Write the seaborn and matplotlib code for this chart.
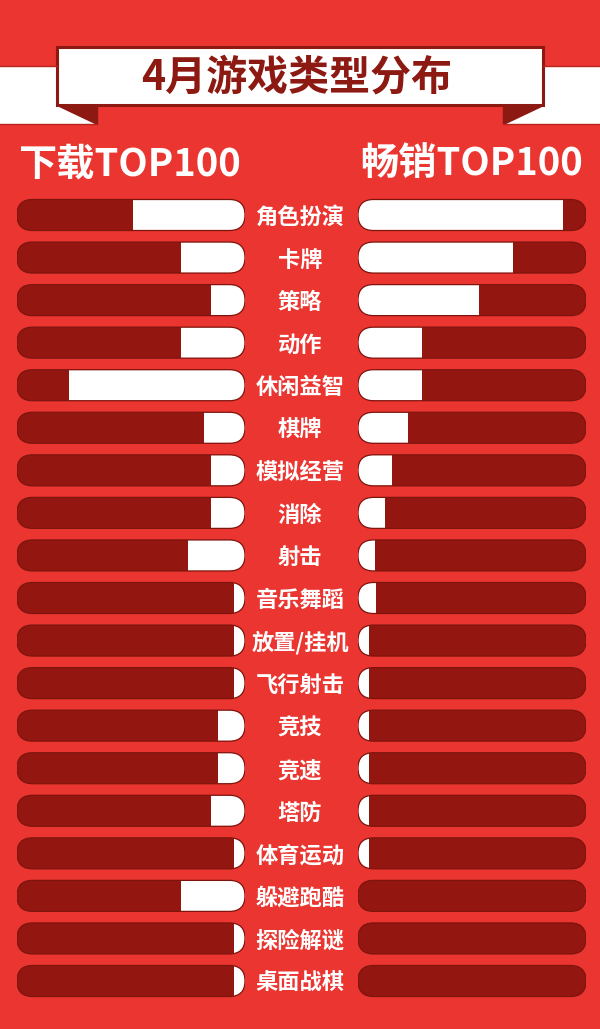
import matplotlib
matplotlib.use("Agg")
from matplotlib import pyplot as plt
from matplotlib.patches import FancyBboxPatch, Rectangle, Polygon
import seaborn as sns
import pandas as pd

genres = [
    "角色扮演", "卡牌", "策略", "动作", "休闲益智", "棋牌", "模拟经营", "消除",
    "射击", "音乐舞蹈", "放置/挂机", "飞行射击", "竞技", "竞速", "塔防",
    "体育运动", "躲避跑酷", "探险解谜", "桌面战棋",
]
# share of the bar that is white, in % of the full track
download_top100 = [49, 28, 15, 28, 77, 18, 15, 15, 25, 5, 5, 5, 12, 12, 15, 5, 28, 5, 5]
grossing_top100 = [90, 68, 53, 28, 28, 22, 15, 12, 7.5, 8, 5, 5, 5, 5, 5, 5, 0, 0, 0]
full_scale = 100

title = "4月游戏类型分布"
left_header = "下载TOP100"
right_header = "畅销TOP100"

BG = "#EA3530"
DARK = "#931710"
EDGE = "#7E140E"
TITLE_RED = "#8C1912"

df = pd.DataFrame({
    "genre": genres,
    "download": download_top100,
    "grossing": grossing_top100,
    "track": [full_scale] * len(genres),
})

sns.set_theme(style="white")
plt.rcParams["font.family"] = ["Noto Sans CJK SC", "DejaVu Sans"]

W, H = 600, 1029
fig = plt.figure(figsize=(W / 100, H / 100), dpi=100)
fig.patch.set_facecolor(BG)

# background / banner axes in pixel units
bg = fig.add_axes([0, 0, 1, 1])
bg.set_xlim(0, W)
bg.set_ylim(H, 0)
bg.axis("off")
bg.add_patch(Rectangle((0, 66), 97, 58, fc="white", ec="none"))
bg.add_patch(Rectangle((503, 66), 97, 58, fc="white", ec="none"))
bg.plot([0, 57], [66, 66], color="#B8241E", lw=1)
bg.plot([543, 600], [66, 66], color="#B8241E", lw=1)
bg.plot([0, 97], [124, 124], color="#B8241E", lw=1)
bg.plot([503, 600], [124, 124], color="#B8241E", lw=1)
bg.add_patch(Polygon([(57, 105), (97, 105), (97, 124)], fc=TITLE_RED, ec=TITLE_RED, lw=1))
bg.add_patch(Polygon([(543, 105), (503, 105), (503, 124)], fc=TITLE_RED, ec=TITLE_RED, lw=1))
bg.add_patch(Rectangle((57, 47), 486, 58, fc="white", ec=TITLE_RED, lw=2.2))
bg.text(297, 77, title, ha="center", va="center", fontsize=29.5,
        fontweight="heavy", color=TITLE_RED)
bg.text(18, 164, left_header, ha="left", va="center", fontsize=27.5,
        fontweight="heavy", color="white")
bg.text(583, 164, right_header, ha="right", va="center", fontsize=27.5,
        fontweight="heavy", color="white")

# bar panels
n = len(genres)
row_px = (981 - 215) / (n - 1)
top_px = 215 - row_px / 2
bottom = 1 - (top_px + n * row_px) / H
height = n * row_px / H
track_px = 228
bar_h = 31 / row_px

left_ax = fig.add_axes([17 / W, bottom, track_px / W, height])
right_ax = fig.add_axes([358 / W, bottom, track_px / W, height])

x_per_px = full_scale / track_px
y_per_px = 1 / row_px
aspect = y_per_px / x_per_px
radius = (bar_h / aspect) / 2

for ax, col in [(left_ax, "download"), (right_ax, "grossing")]:
    sns.barplot(data=df, y="genre", x="track", color=DARK, width=bar_h,
                saturation=1, linewidth=0, ax=ax)
    sns.barplot(data=df, y="genre", x=col, color="white", width=bar_h,
                saturation=1, linewidth=0, ax=ax)
    ax.set_ylim(n - 0.5, -0.5)
    if ax is left_ax:
        ax.set_xlim(full_scale, 0)
    else:
        ax.set_xlim(0, full_scale)
    ax.set_facecolor("none")
    for s in ax.spines.values():
        s.set_visible(False)
    ax.set_xlabel("")
    ax.set_ylabel("")
    ax.set_xticks([])

    bars = list(ax.patches)
    for i in range(n):
        pill = FancyBboxPatch((0, i - bar_h / 2), full_scale, bar_h,
                              boxstyle=f"round,pad=0,rounding_size={radius}",
                              mutation_aspect=aspect, transform=ax.transData)
        bars[i].set_clip_path(pill)
        bars[n + i].set_clip_path(pill)
        ax.add_patch(FancyBboxPatch((0, i - bar_h / 2), full_scale, bar_h,
                                    boxstyle=f"round,pad=0,rounding_size={radius}",
                                    mutation_aspect=aspect, fc="none", ec=EDGE,
                                    lw=0.9, zorder=5))

left_ax.set_yticks([])
right_ax.tick_params(axis="y", length=0, pad=(358 - 300) * 0.72)
for lab in right_ax.get_yticklabels():
    lab.set_ha("center")
    lab.set_color("white")
    lab.set_fontsize(16)
    lab.set_fontweight("bold")

fig.savefig("out.png", dpi=100, facecolor=BG)
